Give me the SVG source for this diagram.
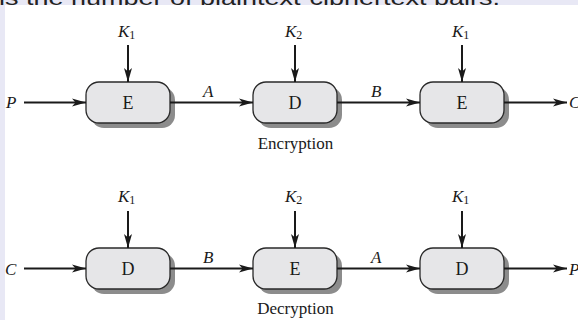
<svg xmlns="http://www.w3.org/2000/svg" width="578" height="320" viewBox="0 0 578 320">
<defs>
<marker id="ah" viewBox="0 -4.5 14 9" refX="14" refY="0" markerWidth="14" markerHeight="9" markerUnits="userSpaceOnUse" orient="auto">
<path d="M0,-4 L14,0 L0,4 L3.5,0 z" fill="#1a1a1a"/>
</marker>
</defs>
<style>
.bg{fill:#e8e8f5}
.panel{fill:#ffffff}
.top{font-family:"Liberation Sans",Arial,sans-serif;font-size:21px;fill:#222}
.shadow{fill:#8c8c8c}
.box{fill:#e6e6e8;stroke:#2a2a2a;stroke-width:1.3}
.lbl{font-family:"Liberation Serif","Times New Roman",serif;font-size:18px;fill:#1a1a1a;text-anchor:middle}
.cap{font-family:"Liberation Serif","Times New Roman",serif;font-size:17px;fill:#1a1a1a;text-anchor:middle}
.it{font-family:"Liberation Serif","Times New Roman",serif;font-style:italic;font-size:17px;fill:#1a1a1a}
.sub{font-style:normal;font-size:12px}
.conn line{stroke:#1a1a1a;stroke-width:2;marker-end:url(#ah)}
</style>
<rect class="bg" x="0" y="0" width="578" height="320"/>
<text class="top" x="-1" y="4.5" textLength="501" lengthAdjust="spacingAndGlyphs">is the number of plaintext-ciphertext pairs.</text>
<rect class="panel" x="5" y="5" width="573" height="315"/>

<g id="enc-E1">
<rect class="shadow" x="91" y="87" width="84" height="41" rx="13"/>
<rect class="box" x="86" y="82" width="84" height="41" rx="13"/>
<text class="lbl" x="128" y="109">E</text>
</g>
<g id="enc-D">
<rect class="shadow" x="258" y="87" width="84" height="41" rx="13"/>
<rect class="box" x="253" y="82" width="84" height="41" rx="13"/>
<text class="lbl" x="295" y="109">D</text>
</g>
<g id="enc-E2">
<rect class="shadow" x="425" y="87" width="84" height="41" rx="13"/>
<rect class="box" x="420" y="82" width="84" height="41" rx="13"/>
<text class="lbl" x="462" y="109">E</text>
</g>
<g id="dec-D1">
<rect class="shadow" x="91" y="253" width="84" height="41" rx="13"/>
<rect class="box" x="86" y="248" width="84" height="41" rx="13"/>
<text class="lbl" x="128" y="275">D</text>
</g>
<g id="dec-E">
<rect class="shadow" x="258" y="253" width="84" height="41" rx="13"/>
<rect class="box" x="253" y="248" width="84" height="41" rx="13"/>
<text class="lbl" x="295" y="275">E</text>
</g>
<g id="dec-D2">
<rect class="shadow" x="425" y="253" width="84" height="41" rx="13"/>
<rect class="box" x="420" y="248" width="84" height="41" rx="13"/>
<text class="lbl" x="462" y="275">D</text>
</g>

<g id="connectors" class="conn">
<line x1="128" y1="45" x2="128" y2="82"/>
<line x1="295" y1="45" x2="295" y2="82"/>
<line x1="462" y1="45" x2="462" y2="82"/>
<line x1="24" y1="102.5" x2="86" y2="102.5"/>
<line x1="170" y1="102.5" x2="253" y2="102.5"/>
<line x1="337" y1="102.5" x2="420" y2="102.5"/>
<line x1="504" y1="102.5" x2="567" y2="102.5"/>
<line x1="128" y1="211" x2="128" y2="248"/>
<line x1="295" y1="211" x2="295" y2="248"/>
<line x1="462" y1="211" x2="462" y2="248"/>
<line x1="24" y1="268.5" x2="86" y2="268.5"/>
<line x1="170" y1="268.5" x2="253" y2="268.5"/>
<line x1="337" y1="268.5" x2="420" y2="268.5"/>
<line x1="504" y1="268.5" x2="567" y2="268.5"/>
</g>

<g id="labels">
<text class="it" x="118" y="37">K<tspan class="sub" dy="2">1</tspan></text>
<text class="it" x="285" y="37">K<tspan class="sub" dy="2">2</tspan></text>
<text class="it" x="452" y="37">K<tspan class="sub" dy="2">1</tspan></text>
<text class="it" x="6" y="108">P</text>
<text class="it" x="203" y="97">A</text>
<text class="it" x="371" y="97">B</text>
<text class="it" x="569" y="108">C</text>
<text class="cap" x="295.5" y="149">Encryption</text>
<text class="it" x="118" y="202">K<tspan class="sub" dy="2">1</tspan></text>
<text class="it" x="285" y="202">K<tspan class="sub" dy="2">2</tspan></text>
<text class="it" x="452" y="202">K<tspan class="sub" dy="2">1</tspan></text>
<text class="it" x="5" y="275">C</text>
<text class="it" x="203" y="263">B</text>
<text class="it" x="371" y="263">A</text>
<text class="it" x="569" y="275">P</text>
<text class="cap" x="295.5" y="314">Decryption</text>
</g>
</svg>
